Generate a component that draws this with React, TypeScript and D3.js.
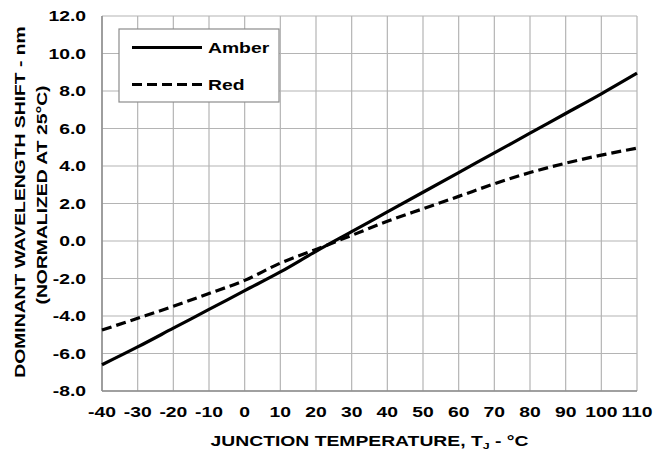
import React from 'react';
import * as d3 from 'd3';

const temps = [-40, -30, -20, -10, 0, 10, 20, 30, 40, 50, 60, 70, 80, 90, 100, 110];
const amber = [-6.6, -5.65, -4.65, -3.65, -2.65, -1.65, -0.55, 0.5, 1.55, 2.6, 3.65, 4.7, 5.75, 6.8, 7.85, 8.95];
const red = [-4.75, -4.12, -3.48, -2.8, -2.1, -1.18, -0.45, 0.3, 1.05, 1.72, 2.38, 3.05, 3.65, 4.15, 4.58, 4.95];
const yTicks = [-8, -6, -4, -2, 0, 2, 4, 6, 8, 10, 12];
const legendItems = [
  { name: 'Amber', dash: 'none' },
  { name: 'Red', dash: '10,5' }
];

const width = 669;
const height = 454;
const margin = { top: 16, right: 32, bottom: 63, left: 102 };
const font = '"Liberation Sans", Arial, sans-serif';
const stretch = 1.38;

// text in the reference is drawn wide, so stretch it along its baseline
const T = ({ x, y, anchor = 'start', rotate = 0, children }: any) => (
  <text
    transform={`translate(${x},${y}) rotate(${rotate}) scale(${stretch},1)`}
    fontSize={14}
    textAnchor={anchor}
  >
    {children}
  </text>
);

export default function App() {
  const x = d3.scaleLinear().domain([-40, 110]).range([margin.left, width - margin.right]);
  const y = d3.scaleLinear().domain([-8, 12]).range([height - margin.bottom, margin.top]);

  const line = d3.line<number>()
    .x((_, i) => x(temps[i]))
    .y(d => y(d))
    .curve(d3.curveMonotoneX);

  const series = [
    { values: amber, dash: 'none' },
    { values: red, dash: '10,5' }
  ];

  return (
    <svg
      width={width}
      height={height}
      style={{ position: 'absolute', left: 0, top: 0, background: '#fff' }}
      fontFamily={font}
      fontWeight="bold"
    >
      {/* grid */}
      {temps.map(t => (
        <line key={'gx' + t} x1={x(t)} x2={x(t)} y1={y(12)} y2={y(-8)} stroke="#b4b4b4" strokeWidth={1.2} />
      ))}
      {yTicks.map(v => (
        <line key={'gy' + v} x1={x(-40)} x2={x(110)} y1={y(v)} y2={y(v)} stroke="#b4b4b4" strokeWidth={1.2} />
      ))}
      <line x1={x(-40)} x2={x(-40)} y1={y(12)} y2={y(-8)} stroke="#8c8c8c" strokeWidth={1.5} />
      <line x1={x(-40)} x2={x(110)} y1={y(-8)} y2={y(-8)} stroke="#8c8c8c" strokeWidth={1.5} />

      {/* lines */}
      {series.map((s, i) => (
        <path key={i} d={line(s.values) || ''} fill="none" stroke="#000" strokeWidth={3.2} strokeDasharray={s.dash} />
      ))}

      {/* legend */}
      <rect x={119} y={29} width={160} height={73} fill="#fff" stroke="#8c8c8c" strokeWidth={1.2} />
      {legendItems.map((l, i) => (
        <g key={l.name}>
          <line x1={132} x2={202} y1={47.5 + i * 37} y2={47.5 + i * 37} stroke="#000" strokeWidth={3.2} strokeDasharray={l.dash} />
          <T x={208} y={52.5 + i * 37}>{l.name}</T>
        </g>
      ))}

      {/* y ticks */}
      {yTicks.map(v => (
        <T key={'ty' + v} x={86} y={y(v) + 5} anchor="end">{v.toFixed(1)}</T>
      ))}
      {/* x ticks */}
      {temps.map(t => (
        <T key={'tx' + t} x={x(t)} y={417} anchor="middle">{t}</T>
      ))}

      {/* titles */}
      <T x={369.5} y={446} anchor="middle">
        JUNCTION TEMPERATURE, T<tspan fontSize={9} dy={3}>J</tspan><tspan dy={-3}> - °C</tspan>
      </T>
      <T x={25} y={202} rotate={-90} anchor="middle">DOMINANT WAVELENGTH SHIFT - nm</T>
      <T x={47} y={195} rotate={-90} anchor="middle">(NORMALIZED AT 25°C)</T>
    </svg>
  );
}
